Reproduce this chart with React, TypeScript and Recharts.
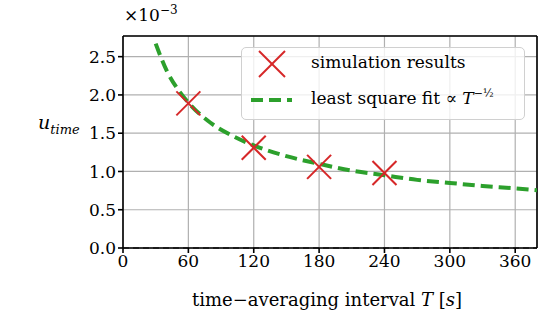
import {
  ComposedChart,
  Line,
  Scatter,
  XAxis,
  YAxis,
  CartesianGrid,
  ReferenceLine,
} from 'recharts';

// (values in units of 1e-3)
const simT = [60, 120, 180, 240];
const simU = [1.89, 1.31, 1.06, 0.98];

const fitT = [30, 40, 50, 60, 80, 100, 120, 150, 180, 210, 240, 270, 300, 330, 360, 380];
const fitU = [2.67, 2.32, 2.08, 1.9, 1.64, 1.47, 1.34, 1.2, 1.1, 1.01, 0.95, 0.89, 0.85, 0.81, 0.78, 0.755];

const xTicks = [0, 60, 120, 180, 240, 300, 360];
const yTicks = [0, 0.5, 1.0, 1.5, 2.0, 2.5];

const simData = simT.map((t, i) => ({ t, u: simU[i] }));
const fitData = fitT.map((t, i) => ({ t, fit: fitU[i] }));

const FONT = '"DejaVu Serif", "Liberation Serif", serif';
const RED = '#d62728';
const GREEN = '#2ca02c';

function Cross(props: any) {
  const { cx, cy } = props;
  const r = 12;
  return (
    <g stroke={RED} strokeWidth={2}>
      <line x1={cx - r} y1={cy - r} x2={cx + r} y2={cy + r} />
      <line x1={cx - r} y1={cy + r} x2={cx + r} y2={cy - r} />
    </g>
  );
}

export default function App() {
  const tick = { fill: '#000', fontSize: 17, fontFamily: FONT };
  return (
    <div style={{ position: 'absolute', left: 0, top: 0, width: 550, height: 328, fontFamily: FONT }}>
      <ComposedChart width={550} height={328} margin={{ top: 36, right: 13, bottom: 50, left: 0 }}>
        <CartesianGrid xAxisId="b" yAxisId="l" stroke="#b0b0b0" strokeWidth={1.2} />
        <XAxis
          xAxisId="b"
          type="number"
          dataKey="t"
          domain={[0, 380]}
          ticks={xTicks}
          allowDataOverflow
          height={30}
          stroke="#000"
          strokeWidth={1.6}
          tickSize={5}
          tick={tick}
        />
        <YAxis
          yAxisId="l"
          type="number"
          domain={[0, 2.77]}
          ticks={yTicks}
          allowDataOverflow
          width={123}
          stroke="#000"
          strokeWidth={1.6}
          tickSize={5}
          tick={tick}
          tickFormatter={(v: number) => v.toFixed(1)}
        />
        <ReferenceLine xAxisId="b" yAxisId="l" y={0} stroke="#000" strokeDasharray="6 4" strokeWidth={1.2} />
        <ReferenceLine xAxisId="b" yAxisId="l" y={2.77} stroke="#000" strokeWidth={1.6} />
        <ReferenceLine xAxisId="b" yAxisId="l" x={380} stroke="#000" strokeWidth={1.6} />
        <Line
          xAxisId="b"
          yAxisId="l"
          data={fitData}
          dataKey="fit"
          type="monotone"
          stroke={GREEN}
          strokeWidth={4}
          strokeDasharray="12 6"
          dot={false}
          isAnimationActive={false}
        />
        <Scatter xAxisId="b" yAxisId="l" data={simData} dataKey="u" shape={<Cross />} isAnimationActive={false} />
      </ComposedChart>

      <div style={{ position: 'absolute', left: 124, top: 3, fontSize: 17 }}>
        ×10<sup style={{ fontSize: 12 }}>−3</sup>
      </div>
      <div style={{ position: 'absolute', left: 38, top: 111, fontSize: 19, fontStyle: 'italic' }}>
        u<sub style={{ fontSize: 13 }}>time</sub>
      </div>
      <div style={{ position: 'absolute', left: 192, top: 289, fontSize: 18 }}>
        time−averaging interval <i>T</i> [<i>s</i>]
      </div>

      <div
        style={{
          position: 'absolute',
          left: 241,
          top: 47,
          width: 284,
          height: 73,
          boxSizing: 'border-box',
          border: '1px solid #d0d0d0',
          borderRadius: 5,
          background: 'rgba(255,255,255,0.8)',
          fontSize: 17,
        }}
      >
        <svg width={60} height={73} style={{ position: 'absolute', left: 0, top: 0 }}>
          <g stroke={RED} strokeWidth={2}>
            <line x1={17} y1={3} x2={43} y2={29} />
            <line x1={17} y1={29} x2={43} y2={3} />
          </g>
          <line x1={9} y1={52} x2={50} y2={52} stroke={GREEN} strokeWidth={4} strokeDasharray="12 6" />
        </svg>
        <div style={{ position: 'absolute', left: 69, top: 4 }}>simulation results</div>
        <div style={{ position: 'absolute', left: 69, top: 39 }}>
          least square fit ∝ <i>T</i>
          <sup style={{ fontSize: 11 }}>−½</sup>
        </div>
      </div>
    </div>
  );
}
